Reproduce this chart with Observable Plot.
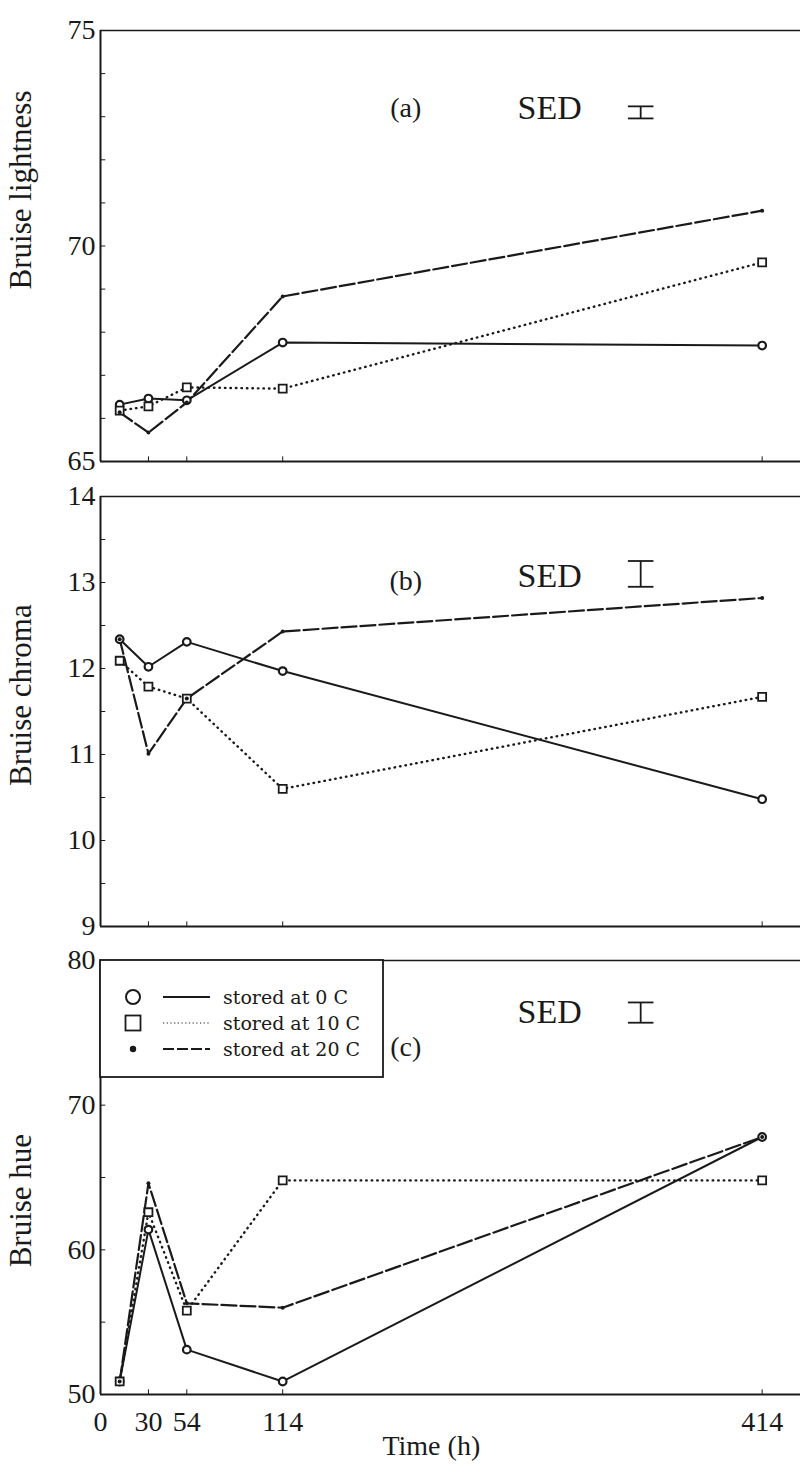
<!DOCTYPE html>
<html><head><meta charset="utf-8">
<script src="https://cdn.jsdelivr.net/npm/d3@7"></script>
<script src="https://cdn.jsdelivr.net/npm/@observablehq/plot@0.6"></script>
<style>
body{margin:0;background:#fff;}
#chart{width:800px;}
#chart svg{display:block;background:#fff;}
</style></head><body><div id="chart"></div>
<script>
// ---- data ----
const hours = [12, 30, 54, 114, 414];
const xTickLabels = [0, 30, 54, 114, 414];
const storage = ["stored at 0 C", "stored at 10 C", "stored at 20 C"];
const lightness0 = [66.32, 66.46, 66.42, 67.76, 67.69];
const lightness10 = [66.18, 66.28, 66.72, 66.69, 69.62];
const lightness20 = [66.14, 65.67, 66.37, 68.83, 70.82];
const chroma0 = [12.34, 12.02, 12.31, 11.97, 10.48];
const chroma10 = [12.09, 11.79, 11.65, 10.60, 11.67];
const chroma20 = [12.34, 11.01, 11.65, 12.43, 12.82];
const hue0 = [50.9, 61.4, 53.1, 50.9, 67.8];
const hue10 = [50.9, 62.6, 55.8, 64.8, 64.8];
const hue20 = [50.9, 64.6, 56.3, 56.0, 67.8];
const panelLetters = ["(a)", "(b)", "(c)"];
const yTitles = ["Bruise lightness", "Bruise chroma", "Bruise hue"];
const yTicksA = [65, 70, 75];
const yTicksB = [9, 10, 11, 12, 13, 14];
const yTicksC = [50, 60, 70, 80];
const sedValues = [0.28, 0.30, 1.4];

// ---- layout ----
const INK = "#1a1a1a";
const SERIF = "'Liberation Serif', 'Times New Roman', serif";
const xDomain = [0, 438];

function rowsOf(a0, a10, a20) {
  const out = [];
  [a0, a10, a20].forEach((arr, k) => arr.forEach((v, i) => out.push({hour: hours[i], value: v, storage: storage[k]})));
  return out;
}

const panels = [
  {data: rowsOf(lightness0, lightness10, lightness20), domain: [65, 75], ticks: yTicksA, minorStep: 1,
   height: 478, marginTop: 30, marginBottom: 17, titleY: 71.3, letterY: 73.2, sedY: 73.1, sedTextY: 73.2, last: false},
  {data: rowsOf(chroma0, chroma10, chroma20), domain: [9, 14], ticks: yTicksB, minorStep: 0.5,
   height: 464, marginTop: 18, marginBottom: 16, titleY: 11.69, letterY: 13.02, sedY: 13.1, sedTextY: 13.08, last: false},
  {data: rowsOf(hue0, hue10, hue20), domain: [50, 80], ticks: yTicksC, minorStep: 5,
   height: 527, marginTop: 18, marginBottom: 75, titleY: 63.4, letterY: 74.0, sedY: 76.4, sedTextY: 76.4, last: true}
];

function legendMark(index, scales, values, dims) {
  const g = d3.create("svg:g");
  const left = dims.marginLeft, top = dims.marginTop;
  g.append("rect").attr("x", left).attr("y", top).attr("width", 283).attr("height", 117)
    .attr("fill", "white").attr("stroke", INK).attr("stroke-width", 1.8);
  storage.forEach((s, i) => {
    const cy = top + 37 + i * 26;
    const sx = left + 33;
    if (i === 0) g.append("circle").attr("cx", sx).attr("cy", cy).attr("r", 7).attr("fill", "none").attr("stroke", INK).attr("stroke-width", 2);
    if (i === 1) g.append("rect").attr("x", sx - 7.5).attr("y", cy - 7.5).attr("width", 15).attr("height", 15).attr("fill", "none").attr("stroke", INK).attr("stroke-width", 1.8);
    if (i === 2) g.append("circle").attr("cx", sx).attr("cy", cy).attr("r", 3.2).attr("fill", INK);
    const ln = g.append("line").attr("x1", left + 63).attr("x2", left + 110).attr("y1", cy).attr("y2", cy).attr("stroke", INK);
    if (i === 0) ln.attr("stroke-width", 1.8);
    if (i === 1) ln.attr("stroke-width", 1.2).attr("stroke-dasharray", "1.2,2.5");
    if (i === 2) ln.attr("stroke-width", 2).attr("stroke-dasharray", "11,3");
    g.append("text").attr("x", left + 123).attr("y", cy).attr("dy", "0.35em").attr("text-anchor", "start")
      .attr("font-family", "'DejaVu Serif', serif")
      .attr("font-size", 19).attr("fill", INK).text(s);
  });
  return g.node();
}

const chart = document.getElementById("chart");
panels.forEach((p, idx) => {
  const [y0, y1] = p.domain;
  const minor = d3.range(y0, y1 + 1e-9, p.minorStep);
  const yTickLen = (y1 - y0) * 0.012;
  const byS = s => p.data.filter(d => d.storage === s);
  const sed = sedValues[idx];
  const sedX = 338;
  const bar = [{x1: sedX, x2: sedX, y1: p.sedY - sed / 2, y2: p.sedY + sed / 2},
               {x1: sedX - 8, x2: sedX + 8, y1: p.sedY - sed / 2, y2: p.sedY - sed / 2},
               {x1: sedX - 8, x2: sedX + 8, y1: p.sedY + sed / 2, y2: p.sedY + sed / 2}];
  const marks = [
    // frame: left, bottom, top
    Plot.ruleX([0], {stroke: INK, strokeWidth: 2}),
    Plot.ruleY([y0], {stroke: INK, strokeWidth: 2}),
    Plot.ruleY([y1], {stroke: INK, strokeWidth: 1.5}),
    // inward minor ticks
    Plot.link(minor, {x1: 0, x2: 3, y1: d => d, y2: d => d, stroke: INK, strokeWidth: 1}),
    Plot.link(xTickLabels.slice(1), {x1: d => d, x2: d => d, y1: y0, y2: y0 + yTickLen, stroke: INK, strokeWidth: 1}),
    // series lines
    Plot.line(byS(storage[0]), {x: "hour", y: "value", stroke: INK, strokeWidth: 2}),
    Plot.line(byS(storage[1]), {x: "hour", y: "value", stroke: INK, strokeWidth: 2.4, strokeDasharray: "0.5,5", strokeLinecap: "round"}),
    Plot.line(byS(storage[2]), {x: "hour", y: "value", stroke: INK, strokeWidth: 2.2, strokeDasharray: "15,4"}),
    // markers
    Plot.dot(byS(storage[0]), {x: "hour", y: "value", r: 3.8, fill: "white", stroke: INK, strokeWidth: 2.2}),
    Plot.dot(byS(storage[1]), {x: "hour", y: "value", symbol: "square", r: 4.5, fill: "white", stroke: INK, strokeWidth: 1.8}),
    Plot.dot(byS(storage[2]), {x: "hour", y: "value", r: 2, fill: INK}),
    // y tick labels
    Plot.axisY({ticks: p.ticks, tickSize: 0, tickPadding: 5, tickFormat: d3.format("d"), fontSize: 28, fontFamily: SERIF, label: null, fill: INK}),
    // y title
    Plot.text([yTitles[idx]], {frameAnchor: "left", y: () => p.titleY, rotate: -90, dx: -79, textAnchor: "middle", fontSize: 31, fontFamily: SERIF, fill: INK}),
    // panel letter & SED
    Plot.text([panelLetters[idx]], {x: () => 191, y: () => p.letterY, fontSize: 28, fontFamily: SERIF, fill: INK}),
    Plot.text(["SED"], {x: () => 281, y: () => p.sedTextY, fontSize: 34, fontFamily: SERIF, fill: INK}),
    Plot.link(bar, {x1: "x1", x2: "x2", y1: "y1", y2: "y2", stroke: INK, strokeWidth: 1.8})
  ];
  if (p.last) {
    marks.push(legendMark);
    marks.push(Plot.axisX({ticks: xTickLabels, tickSize: 0, tickPadding: 17, fontSize: 28, fontFamily: SERIF, label: null, fill: INK}));
    marks.push(Plot.text(["Time (h)"], {frameAnchor: "bottom", x: () => 207, dy: 60, fontSize: 28, fontFamily: SERIF, fill: INK}));
  } else {
    marks.push(Plot.axisX({ticks: [], label: null}));
  }
  const svg = Plot.plot({
    width: 800, height: p.height,
    marginLeft: 100, marginRight: 0, marginTop: p.marginTop, marginBottom: p.marginBottom,
    x: {domain: xDomain},
    y: {domain: p.domain},
    style: {background: "white", color: INK, overflow: "visible"},
    marks
  });
  chart.appendChild(svg);
});
</script></body></html>
